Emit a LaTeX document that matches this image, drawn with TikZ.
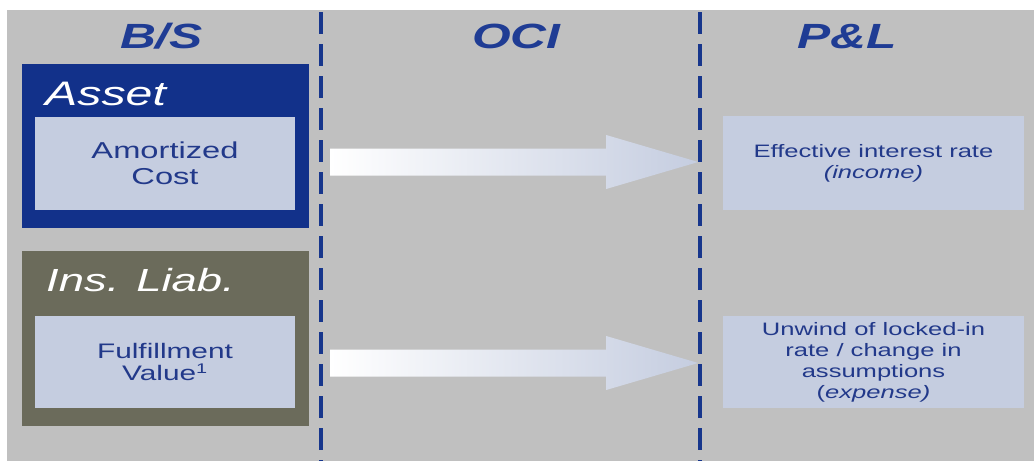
\documentclass[tikz,border=0pt]{standalone}
\usepackage{fontspec}
\setmainfont{Liberation Sans}
% Arial-metric glyphs, widened to the slide's stretched look
\newfontfamily\wide[FakeStretch=1.42]{Liberation Sans}
\usetikzlibrary{calc}

\definecolor{pagegray}{HTML}{C0C0C0}
\definecolor{navy}{HTML}{12318A}
\definecolor{linenavy}{HTML}{17368C}
\definecolor{headblue}{HTML}{1F3C94}
\definecolor{olive}{HTML}{6B6B5B}
\definecolor{paleblue}{HTML}{C5CDE0}
\definecolor{textblue}{HTML}{22398A}

\tikzset{
  heading/.style={anchor=base, inner sep=0pt, text=headblue,
    font=\wide\bfseries\itshape\fontsize{35}{40}\selectfont},
  outerbox/.style={rectangle, draw=none, inner sep=0pt},
  boxtitle/.style={anchor=base west, inner sep=0pt, text=white},
  valuebox/.style={rectangle, fill=paleblue, draw=none, inner sep=0pt,
    align=center, text=textblue},
  divider/.style={linenavy, line width=3.5pt, dash pattern=on 22pt off 10pt},
  flowarrow/.style={left color=white, middle color=white!72!paleblue,
    right color=paleblue, draw=none}
}

\begin{document}
\begin{tikzpicture}[x=1pt, y=-1pt]
\useasboundingbox (0,0) rectangle (1034,461);
\fill[pagegray] (7,10) rectangle (1034,461);

% column headings
\node[heading] (hbs)  at (161.5,48) {B/S};
\node[heading] (hoci) at (516.5,48) {OCI};
\node[heading] (hpl)  at (847,48)   {P\&L};

% column dividers
\coordinate (d1top) at (321,12);
\coordinate (d1bot) at (321,461);
\coordinate (d2top) at (700,12);
\coordinate (d2bot) at (700,461);
\draw[divider] (d1top) -- (d1bot);
\draw[divider] (d2top) -- (d2bot);

% balance sheet: asset
\node[outerbox, fill=navy, minimum width=287pt, minimum height=164pt]
  (asset) at (165.5,146) {};
\node[boxtitle, font=\wide\itshape\fontsize{34}{40}\selectfont]
  (assettitle) at (45,105) {Asset};
\node[valuebox, minimum width=260pt, minimum height=93pt,
  font=\wide\fontsize{23}{26}\selectfont]
  (amort) at (165,163.5) {Amortized\\Cost};

% balance sheet: insurance liability
\node[outerbox, fill=olive, minimum width=287pt, minimum height=175pt]
  (liab) at (165.5,338.5) {};
\node[boxtitle, font=\wide\itshape\fontsize{32}{40}\selectfont]
  (liabtitle) at (46,291) {Ins. Liab.};
\node[valuebox, minimum width=260pt, minimum height=92pt,
  font=\wide\fontsize{21}{22.5}\selectfont]
  (fulfil) at (165,362) {Fulfillment\\Value\textsuperscript{\fontsize{14}{14}\selectfont 1}};

% profit and loss entries
\node[valuebox, minimum width=301pt, minimum height=94pt,
  font=\wide\fontsize{18}{21}\selectfont]
  (eir) at (873.5,163) {Effective interest rate\\\textit{(income)}};
\node[valuebox, minimum width=301pt, minimum height=92pt,
  font=\wide\fontsize{18}{21}\selectfont]
  (unwind) at (873.5,362) {Unwind of locked-in\\rate / change in\\assumptions\\(\textit{expense)}};

% block arrows from the balance sheet through OCI to P&L
\coordinate (a1s) at ($(amort.east)+(35,-1.5)$);
\coordinate (a1e) at ($(a1s)+(368,0)$);
\coordinate (a2s) at ($(fulfil.east)+(35,1)$);
\coordinate (a2e) at ($(a2s)+(368,0)$);
\foreach \s/\e in {a1s/a1e, a2s/a2e}{
  \shade[flowarrow]
    ($(\s)+(0,-13.5)$) -- ($(\e)+(-92,-13.5)$) -- ($(\e)+(-92,-27)$) --
    (\e) -- ($(\e)+(-92,27)$) -- ($(\e)+(-92,13.5)$) -- ($(\s)+(0,13.5)$) -- cycle;
}
\end{tikzpicture}
\end{document}
